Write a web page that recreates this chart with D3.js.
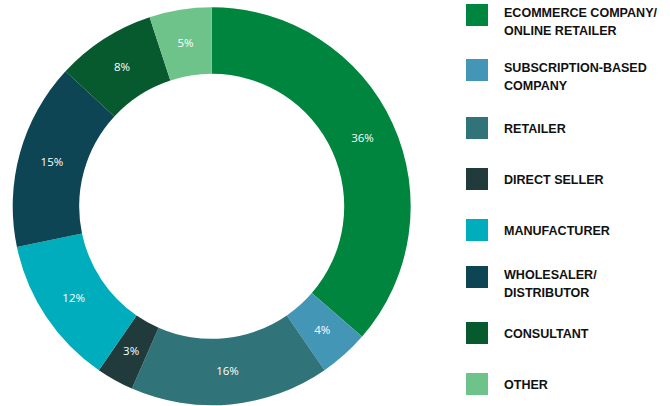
<!DOCTYPE html>
<html><head><meta charset="utf-8">
<script src="https://cdn.jsdelivr.net/npm/d3@7"></script>
<style>body{margin:0;background:#fff}svg{display:block}</style>
</head><body>
<svg id="c" width="670" height="406"></svg>
<script>
const categories = [["ECOMMERCE COMPANY/","ONLINE RETAILER"],["SUBSCRIPTION-BASED","COMPANY"],["RETAILER"],["DIRECT SELLER"],["MANUFACTURER"],["WHOLESALER/","DISTRIBUTOR"],["CONSULTANT"],["OTHER"]];
const values = [36,4,16,3,12,15,8,5];
const colors = ["#00853e","#4496b7","#30747a","#213a3b","#00adbd","#0d4555","#075a2e","#6dc389"];
const legendY = [4,59,117,168,219,266,322,373];

const svg = d3.select("#c");
const cx = 211.7, cy = 206.3, R = 199, r = 132.5;
const pie = d3.pie().sort(null).value(d=>d);
const arc = d3.arc().innerRadius(r).outerRadius(R);
const g = svg.append("g").attr("transform",`translate(${cx},${cy})`);
const arcs = pie(values);
g.selectAll("path").data(arcs).join("path").attr("d",arc).attr("fill",(d,i)=>colors[i]);
g.selectAll("text").data(arcs).join("text")
  .attr("transform",d=>`translate(${arc.centroid(d)})`)
  .attr("text-anchor","middle").attr("dy","0.36em")
  .attr("fill","#fff").attr("font-family","Open Sans, sans-serif").attr("font-size",11.5)
  .text(d=>d.data+"%");

const lg = svg.append("g");
categories.forEach((lines,i)=>{
  const y = legendY[i];
  lg.append("rect").attr("x",466).attr("y",y).attr("width",22).attr("height",22).attr("fill",colors[i]);
  const base = lines.length===1 ? y+15.5 : y+13.3;
  const t = lg.append("text").attr("transform",`translate(504,${base}) scale(0.93,1)`)
    .attr("font-family","Liberation Sans Narrow, Arial Narrow, sans-serif").attr("font-weight","bold").attr("font-size",13.5).attr("fill","#111");
  lines.forEach((l,j)=>t.append("tspan").attr("x",0).attr("y",j*17.4).text(l));
});
</script>
</body></html>
